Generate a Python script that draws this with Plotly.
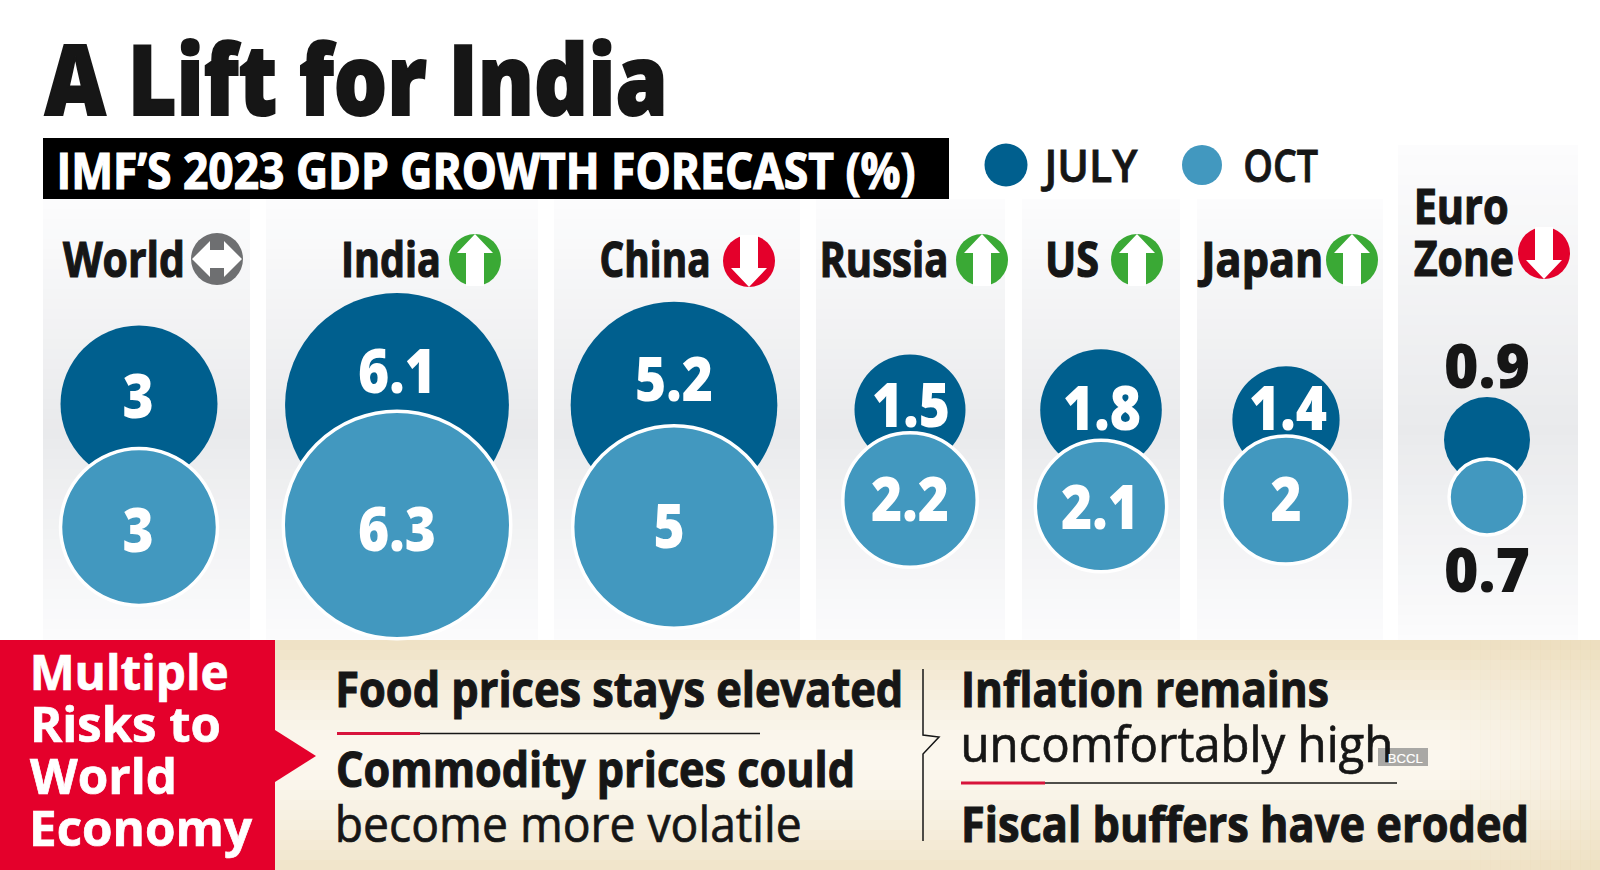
import json
import plotly.graph_objects as go

# ---- data ----
countries = ["World", "India", "China", "Russia", "US", "Japan", "Euro Zone"]
july = [3, 6.1, 5.2, 1.5, 1.8, 1.4, 0.9]
oct_ = [3, 6.3, 5, 2.2, 2.1, 2, 0.7]
direction = ["flat", "up", "down", "up", "up", "up", "down"]

# ---- layout geometry (figure pixels) ----
column_x = [139, 397, 674, 910, 1101, 1286, 1487]
july_y = [404, 405, 405, 410, 410, 420, 440]
oct_y = [527, 525, 527, 500, 506, 500, 497]
july_label_xy = [(138, 402), (397, 377), (674, 385), (911, 411), (1102, 414), (1288, 414), (1487, 372)]
oct_label_xy = [(138, 536), (397, 535), (669, 532), (910, 505), (1100, 513), (1286, 505), (1487, 576)]
panels = [(43, 250, 199), (266, 538, 199), (554, 800, 199), (816, 1005, 199), (1022, 1180, 199), (1197, 1383, 199), (1398, 1578, 145)]
icons = [(217, 259), (475, 260), (749, 261), (982, 260), (1137, 260), (1352, 260), (1544, 253)]

OPEN = "Open Sans"
INK = "#161616"
BLUE_D = "#005f8e"
BLUE_L = "#4298bf"
RED = "#e4002b"
GREEN = "#3aa935"
GREY = "#6e6f71"

shapes = []
annots = []
text_widths = []
text_strokes = []


def lerp(c1, c2, t):
    return "rgb(%d,%d,%d)" % tuple(round(a + (b - a) * t) for a, b in zip(c1, c2))


def rect(x0, y0, x1, y1, color, layer="below"):
    shapes.append(dict(type="rect", x0=x0, x1=x1, y0=y0, y1=y1, fillcolor=color, line_width=0, layer=layer))


def path(d, color, width=0, fill=True, layer="below"):
    shapes.append(dict(type="path", path=d, fillcolor=color if fill else "rgba(0,0,0,0)",
                       line=dict(color=color, width=width), layer=layer))


def text(x0, x1, base, s, size, color=INK, weight=700, font=OPEN, stroke=0.9, pad=True):
    """Real text centred between x0 and x1, squeezed to that width after drawing."""
    if pad:
        x0, x1 = x0 - 2.5, x1 + 1.5
    annots.append(dict(x=(x0 + x1) / 2, y=base + size * 0.293, text=s, showarrow=False, xanchor="center",
                       yanchor="bottom", xref="x", yref="y", borderpad=0, borderwidth=0,
                       font=dict(family=font, size=size, color=color, weight=weight)))
    text_widths.append(x1 - x0)
    text_strokes.append(stroke)


# panels with vertical gradient
for (x0, x1, top) in panels:
    y = top
    while y < 640:
        t = (y - top) / (425 - top) if y < 425 else (640 - y) / (640 - 425)
        rect(x0, y, x1, y + 10.5, lerp((252, 252, 253), (233, 234, 236), max(0, t)))
        y += 10

# bottom band
y = 640
while y < 870:
    t = abs(y - 755) / 115
    rect(275, y, 1600, y + 10.5, lerp((251, 247, 238), (239, 226, 198), t ** 1.6))
    y += 10
x = 1440
while x < 1600:
    a = 0.28 * (x - 1440) / 160
    rect(x, 640, x + 10.5, 870, f"rgba(232,212,172,{a:.3f})")
    x += 10
rect(0, 640, 275, 870, RED)
path("M275,730 L316,756 L275,782 Z", RED)

# title bar
rect(43, 138, 949, 199, "#000000")


def icon(cx, cy, kind):
    r = 26
    col = {"up": GREEN, "down": RED, "flat": GREY}[kind]
    shapes.append(dict(type="circle", x0=cx - r, x1=cx + r, y0=cy - r, y1=cy + r, fillcolor=col, line_width=0, layer="above"))
    if kind == "up":
        d = (f"M{cx},{cy-26} L{cx+18},{cy-7} L{cx+9},{cy-7} L{cx+9},{cy+26} L{cx-9},{cy+26} "
             f"L{cx-9},{cy-7} L{cx-18},{cy-7} Z")
    elif kind == "down":
        d = (f"M{cx},{cy+26} L{cx+18},{cy+7} L{cx+9},{cy+7} L{cx+9},{cy-26} L{cx-9},{cy-26} "
             f"L{cx-9},{cy+7} L{cx-18},{cy+7} Z")
    else:
        d = (f"M{cx-25},{cy} L{cx-7},{cy-18} L{cx-7},{cy-9} L{cx+7},{cy-9} L{cx+7},{cy-18} L{cx+25},{cy} "
             f"L{cx+7},{cy+18} L{cx+7},{cy+9} L{cx-7},{cy+9} L{cx-7},{cy+18} Z")
    path(d, "#ffffff", layer="above")


for (cx, cy), kind in zip(icons, direction):
    icon(cx, cy, kind)

# rules
rect(337, 732, 420, 735, "#d7143c")
rect(420, 732.7, 760, 734.2, INK)
rect(961, 781.5, 1045, 784.5, "#d7143c")
rect(1045, 782.3, 1397, 783.8, INK)
path("M923,669 L923,735 L939,737 L923,754 L923,841", INK, width=1.5, fill=False)

# texts
text(47, 666, 115, "A Lift for India", 98, weight=800, stroke=2)
text(59, 914, 189, "IMF’S 2023 GDP GROWTH FORECAST (%)", 50, color="#ffffff", stroke=1.2)
text(1045, 1134, 182, "JULY", 45, weight=600, stroke=0.8)
text(1245, 1316, 182, "OCT", 45, weight=600, stroke=0.8)
text(65, 183, 277, "World", 49, stroke=1.2)
text(343, 439, 277, "India", 49, stroke=1.2)
text(602, 709, 277, "China", 49, stroke=1.2)
text(822, 947, 277, "Russia", 49, stroke=1.2)
text(1047, 1097, 277, "US", 49, stroke=1.2)
text(1202, 1320, 277, "Japan", 49, stroke=1.2)
text(1416, 1507, 224, "Euro", 49, stroke=1.2)
text(1416, 1512, 276, "Zone", 49, stroke=1.2)
for i, (s, x1) in enumerate(zip(["Multiple", "Risks to", "World", "Economy"], [227, 219, 175, 251])):
    text(32, x1, 690 + 52 * i, s, 48, color="#ffffff", stroke=0.7)
text(337, 901, 707, "Food prices stays elevated", 49, stroke=1.1)
text(338, 853, 787, "Commodity prices could", 49, stroke=1.1)
text(337, 800, 842, "become more volatile", 49, weight=500, stroke=0.7)
text(963, 1327, 707, "Inflation remains", 49, stroke=1.1)
text(963, 1392, 762, "uncomfortably high", 49, weight=500, stroke=0.7)
text(963, 1527, 842, "Fiscal buffers have eroded", 49, stroke=1.1)

# bubble size: area proportional to the value
SIZEREF_JULY = 2 * 3 / (2 * 78.5) ** 2
SIZEREF_OCT = 2 * 3 / (2 * 78.5) ** 2

fig = go.Figure()
fig.add_trace(go.Scatter(x=column_x, y=july_y, mode="markers", name="JULY", showlegend=False,
                         marker=dict(size=july, sizemode="area", sizeref=SIZEREF_JULY, color=BLUE_D, opacity=1, line=dict(width=0)),
                         text=countries, hoverinfo="text"))
fig.add_trace(go.Scatter(x=column_x, y=oct_y, mode="markers", name="OCT", showlegend=False,
                         marker=dict(size=oct_, sizemode="area", sizeref=SIZEREF_OCT, color=BLUE_L, opacity=1,
                                     line=dict(width=3.5, color="#ffffff")),
                         text=countries, hoverinfo="text"))
# value labels
for series, xy in ((july, july_label_xy), (oct_, oct_label_xy)):
    colors = ["#ffffff"] * 6 + [INK]
    fig.add_trace(go.Scatter(x=[p[0] for p in xy], y=[p[1] for p in xy], mode="text", showlegend=False,
                             text=[f"{v:g}" for v in series], textposition="middle center",
                             textfont=dict(family=OPEN, size=62, color=colors, weight=800), hoverinfo="skip"))
# key
fig.add_trace(go.Scatter(x=[1006, 1202], y=[165, 165], mode="markers", showlegend=False, hoverinfo="skip",
                         marker=dict(size=[43, 40], color=[BLUE_D, BLUE_L], opacity=1, line=dict(width=0))))
# agency tag, drawn over the text
rect(1378, 748, 1428, 766, "#a9a8a5", layer="above")
text(1388, 1423, 762, "BCCL", 13, color="#ffffff", weight=400, font="Liberation Sans", stroke=0.2, pad=False)

axis = dict(visible=False, fixedrange=True, showgrid=False, zeroline=False)
fig.update_layout(
    width=1600, height=870, autosize=False,
    margin=dict(l=0, r=0, t=0, b=0), paper_bgcolor="#ffffff", plot_bgcolor="#ffffff",
    xaxis=dict(range=[0, 1600], **axis), yaxis=dict(range=[870, 0], **axis),
    shapes=shapes, annotations=annots, showlegend=False,
)

post = """
document.body.style.margin = '0';
var w = %s, s = %s;
document.querySelectorAll('.annotation').forEach(function (g) {
  var t = g.querySelector('text');
  var i = +g.getAttribute('data-index');
  if (t && w[i]) {
    t.setAttribute('textLength', w[i]);
    t.setAttribute('lengthAdjust', 'spacingAndGlyphs');
    t.style.stroke = t.style.fill;
    t.style.strokeWidth = s[i] + 'px';
  }
});
document.querySelectorAll('.textpoint text').forEach(function (t) {
  var wide = t.textContent.indexOf('0.') === 0;
  t.setAttribute('textLength', t.getComputedTextLength() * (wide ? 0.95 : 0.86));
  t.setAttribute('lengthAdjust', 'spacingAndGlyphs');
});
""" % (json.dumps(text_widths), json.dumps(text_strokes))
fig.write_html("out.html", config=dict(displayModeBar=False), post_script=post)
